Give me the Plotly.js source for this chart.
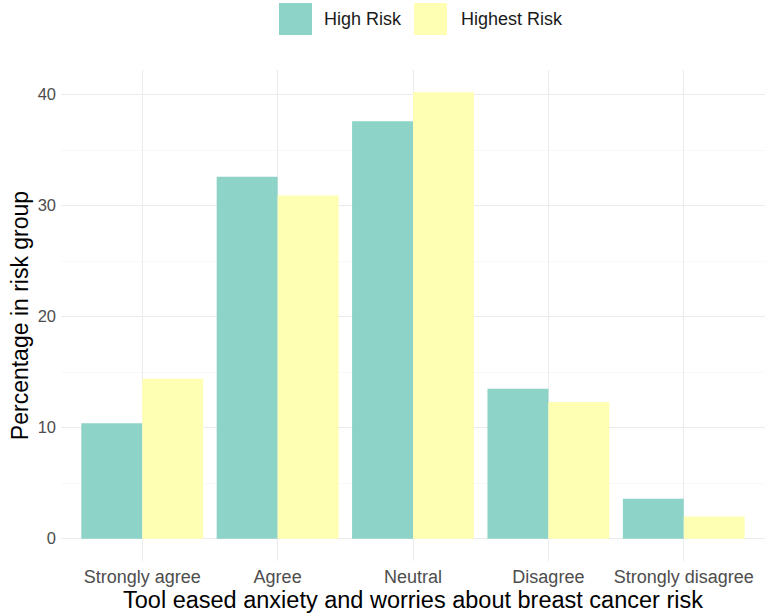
<!DOCTYPE html>
<html><head><meta charset="utf-8">
<script src="https://cdn.plot.ly/plotly-3.0.1.min.js"></script>
<style>html,body{margin:0;padding:0;background:#fff}#chart{width:768px;height:616px}</style>
</head><body><div id="chart"></div>
<script>
const categories = ["Strongly agree", "Agree", "Neutral", "Disagree", "Strongly disagree"];
const highRisk = [10.4, 32.6, 37.6, 13.5, 3.6];
const highestRisk = [14.4, 30.9, 40.2, 12.3, 2.0];
const seriesNames = ["High Risk", "Highest Risk"];
const colors = ["#8DD3C7", "#FFFFB3"];

const L = 61, R = 765, T = 70, B = 561;
const px = p => (p - L) / (R - L);
const py = p => (B - p) / (B - T);

const traces = [
  {type:'bar', x: categories, y: highRisk, name: seriesNames[0], marker:{color: colors[0]}, width:0.45, showlegend:false},
  {type:'bar', x: categories, y: highestRisk, name: seriesNames[1], marker:{color: colors[1]}, width:0.45, showlegend:false}
];

// manual legend (ggplot-style large keys)
const keyLeft = [279, 414], textLeft = [322, 459];
const shapes = [], annotations = [];
seriesNames.forEach((n, i) => {
  shapes.push({type:'rect', xref:'paper', yref:'paper', x0:px(keyLeft[i]), x1:px(keyLeft[i]+33), y0:py(35), y1:py(3),
               fillcolor: colors[i], line:{width:0}, layer:'above'});
  annotations.push({xref:'paper', yref:'paper', x:px(textLeft[i]), y:py(19), xanchor:'left', yanchor:'middle',
                    text:n, showarrow:false, font:{size:18, color:'#1a1a1a'}});
});

const layout = {
  width:768, height:616,
  paper_bgcolor:'#fff', plot_bgcolor:'#fff',
  font:{family:'Liberation Sans, Arial, sans-serif', color:'#000'},
  margin:{l:L, r:768-R, t:T, b:616-B},
  barmode:'group', bargap:0.1, bargroupgap:0,
  showlegend:false,
  shapes, annotations,
  xaxis:{type:'category', range:[-0.6, 4.6], showgrid:true, gridcolor:'#EBEBEB', gridwidth:1, zeroline:false, showline:false, ticks:'',
         tickfont:{size:18, color:'#4D4D4D'}, ticklabelstandoff:3,
         title:{text:'Tool eased anxiety and worries about breast cancer risk', font:{size:23.5, color:'#000'}, standoff:0}, automargin:false},
  yaxis:{range:[-2.01, 42.21], tickvals:[0,10,20,30,40], showgrid:true, gridcolor:'#EBEBEB', gridwidth:1.1, zeroline:false, showline:false, ticks:'',
         minor:{tickvals:[5,15,25,35], showgrid:true, gridcolor:'#F3F3F3', gridwidth:0.6},
         tickfont:{size:16.5, color:'#4D4D4D'}, ticklabelstandoff:4,
         title:{text:'Percentage in risk group', font:{size:23, color:'#000'}, standoff:2}, automargin:false}
};
Plotly.newPlot('chart', traces, layout, {displayModeBar:false, staticPlot:true});
</script></body></html>
